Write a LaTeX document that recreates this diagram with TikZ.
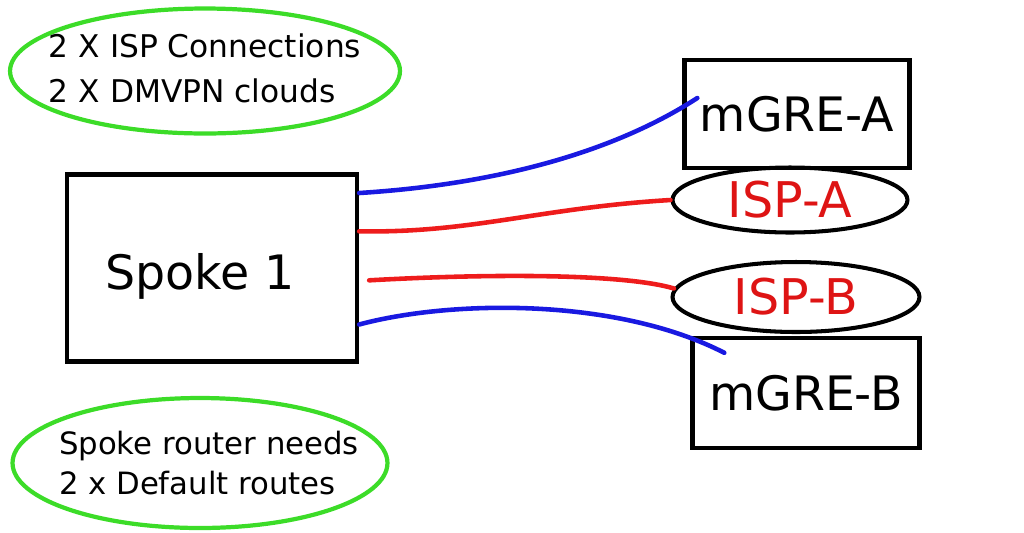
\documentclass[tikz,border=0pt]{standalone}
\usepackage{fontspec}
\setmainfont{DejaVu Sans}
\usepackage{xcolor}
\usetikzlibrary{shapes.geometric, calc}
\definecolor{ringgreen}{RGB}{60,220,40}
\definecolor{linkred}{RGB}{238,28,28}
\definecolor{linkblue}{RGB}{25,25,225}
\definecolor{textred}{RGB}{222,20,20}

\begin{document}
\begin{tikzpicture}[x=0.02cm, y=-0.02cm,
	note/.style={ellipse, draw=ringgreen, line width=2.4pt, inner sep=0pt},
	notetext/.style={align=left, inner sep=0pt, font=\fontsize{17.8}{25.6}\selectfont},
	router/.style={rectangle, draw, line width=2.5pt, inner sep=0pt, font=\fontsize{27}{32}\selectfont},
	routertext/.style={inner sep=0pt, font=\fontsize{27}{32}\selectfont},
	isp/.style={ellipse, draw, line width=2.3pt, inner sep=0pt},
	isptext/.style={inner sep=0pt, text=textred, font=\fontsize{28}{32}\selectfont},
	tunnel/.style={linkblue, line width=2.6pt, line cap=round},
	transport/.style={linkred, line width=2.6pt, line cap=round}]
	\useasboundingbox (0,0) rectangle (1024,532);
	% notes
	\node[note, minimum width=7.8cm, minimum height=2.5cm,
		label={[notetext, yshift=0.05cm]center:2 X ISP Connections\\2 X DMVPN clouds}] at (205,71) (clouds) {};
	\node[note, minimum width=7.5cm, minimum height=2.6cm,
		label={[notetext, font=\fontsize{17.5}{23.3}\selectfont, xshift=0.18cm]center:Spoke router needs\\2 x Default routes}] at (200,463) (routes) {};
	% routers and providers
	\node[router, minimum width=5.8cm, minimum height=3.74cm,
		label={[routertext, xshift=-0.24cm, yshift=-0.16cm]center:Spoke 1}] at (212,268) (spoke) {};
	\node[router, minimum width=4.5cm, minimum height=2.16cm] at (797,114) (mgreA) {mGRE-A};
	\node[isp, minimum width=4.7cm, minimum height=1.3cm, label={[isptext]center:ISP-A}] at (790,200) (ispA) {};
	\node[isp, minimum width=4.94cm, minimum height=1.4cm, label={[isptext]center:ISP-B}] at (796,297) (ispB) {};
	\node[router, minimum width=4.54cm, minimum height=2.2cm] at (806,393) (mgreB) {mGRE-B};
	% links
	\draw[tunnel] (spoke.27) .. controls +(143,-9) and +(-80,52) .. ($(mgreA.west)+(15,-16)$);
	\draw[transport] (spoke.14) .. controls +(113,2) and +(-132,8) .. (ispA.west);
	\draw[transport, shorten <=0.2cm] (spoke.-5) .. controls +(143,-8) and +(-47,-14) .. (ispB.176);
	\draw[tunnel] (spoke.-21) .. controls +(93,-25) and +(-107,-55) .. ($(mgreB.north west)+(34,17)$);
\end{tikzpicture}
\end{document}
